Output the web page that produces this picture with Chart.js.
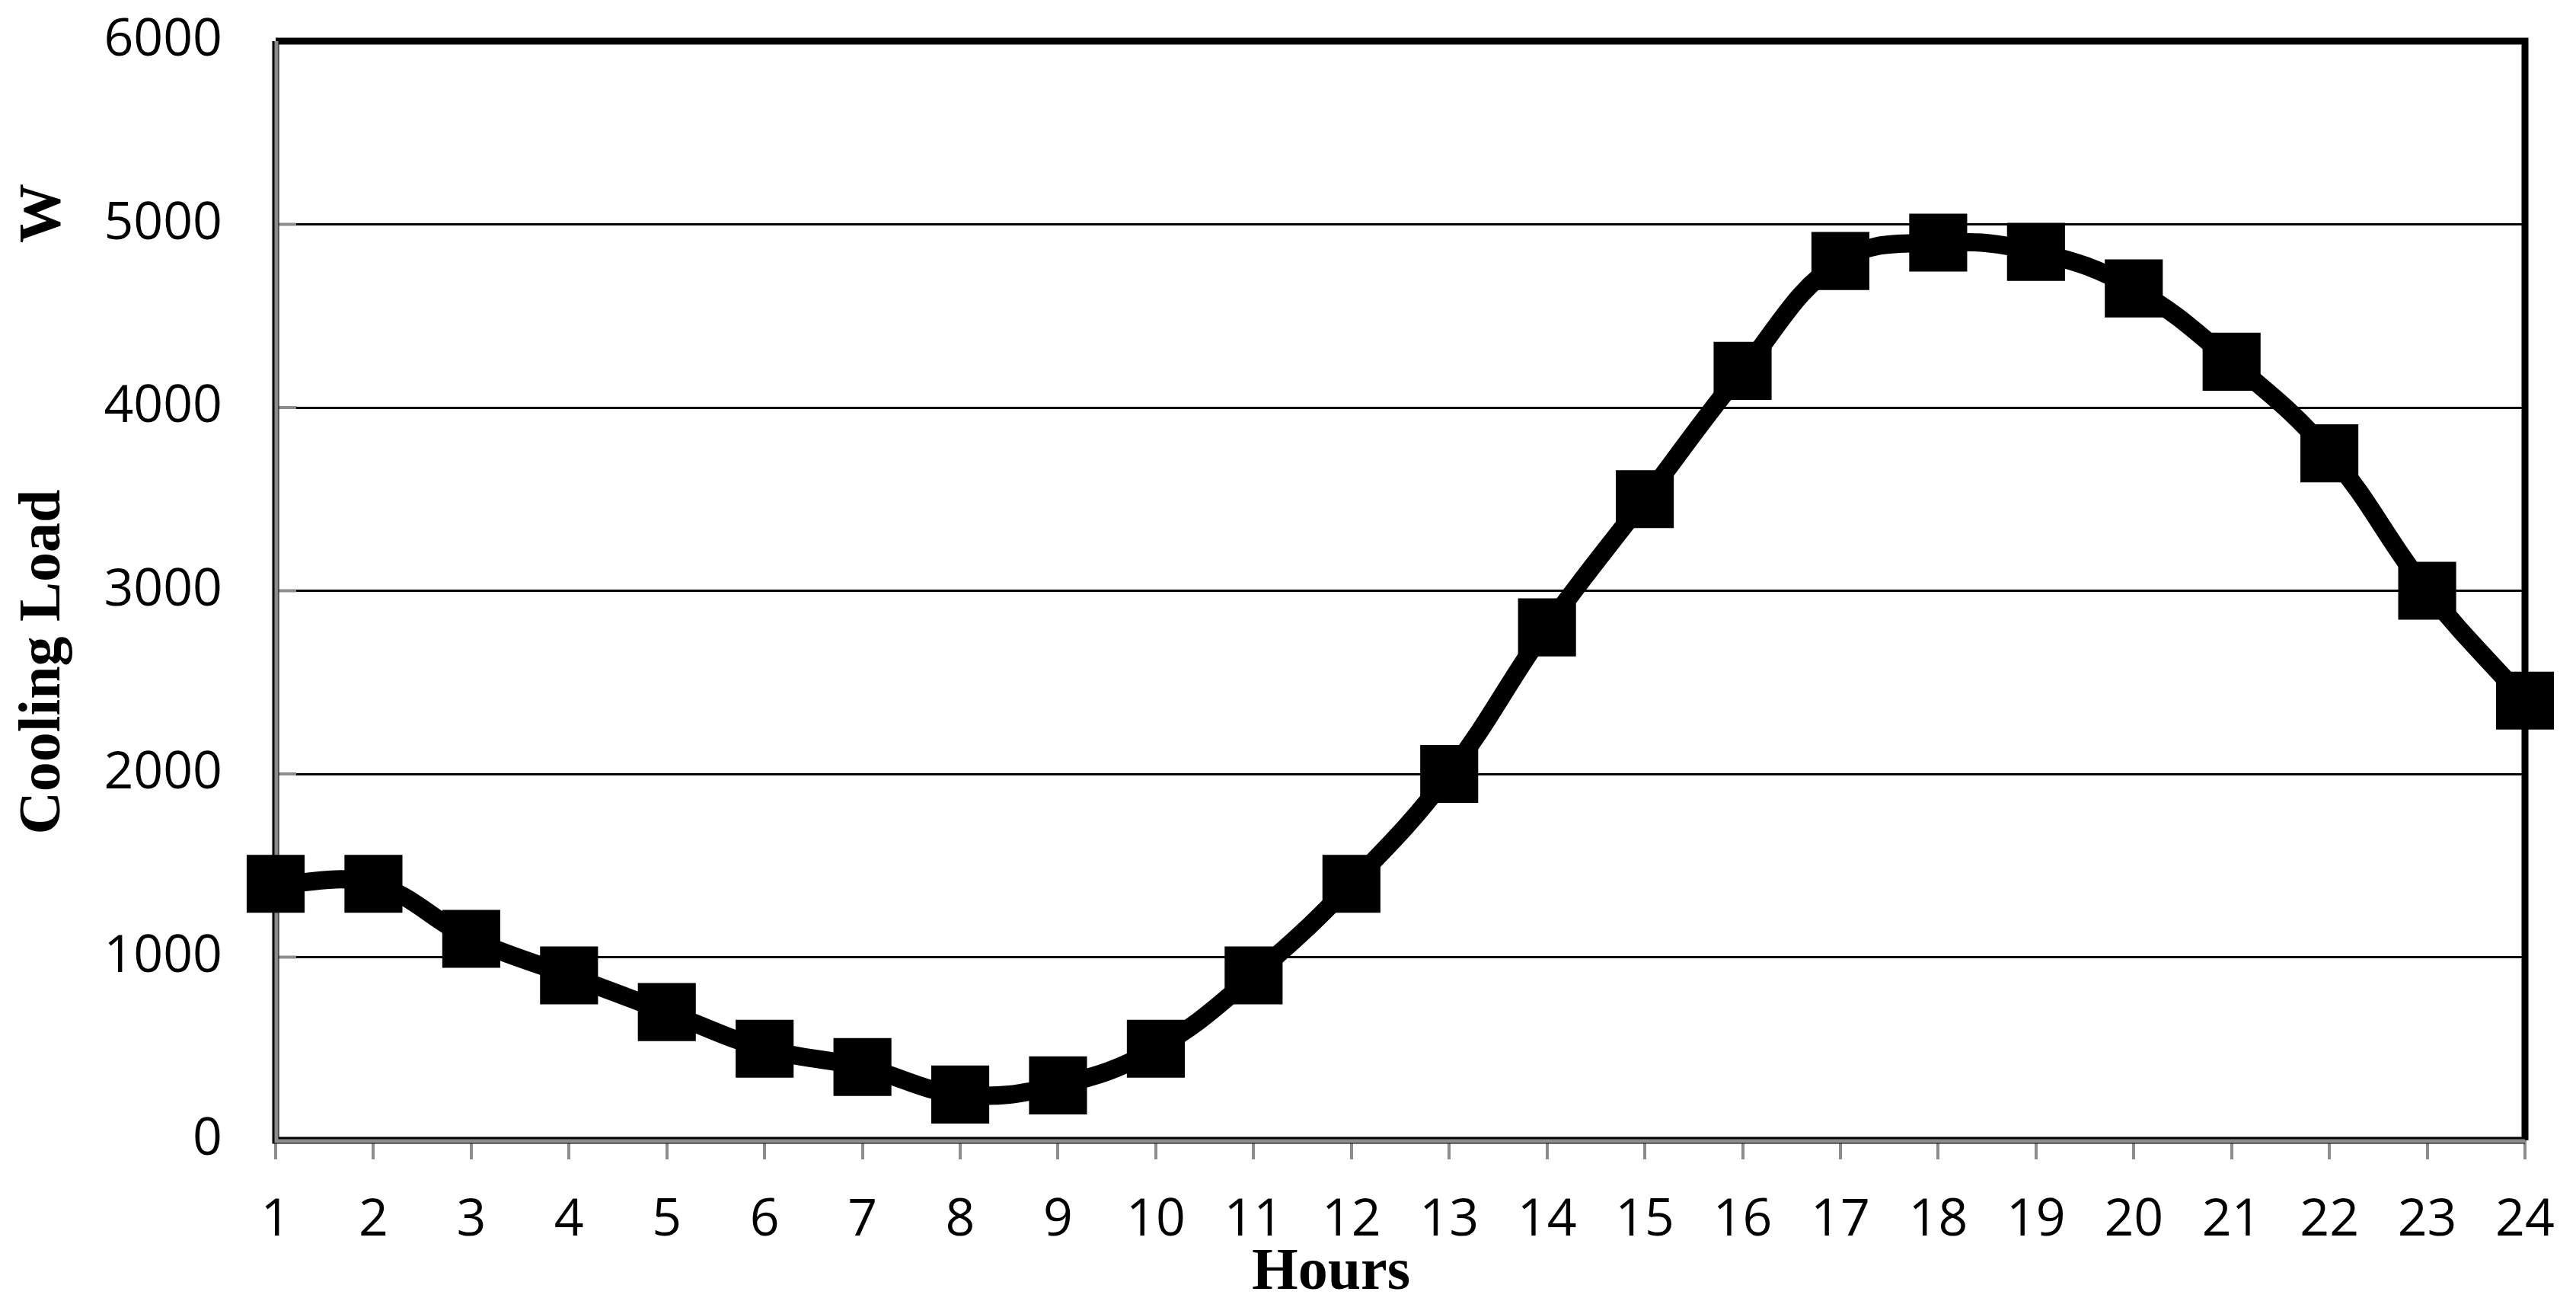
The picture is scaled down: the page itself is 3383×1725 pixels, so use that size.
<!DOCTYPE html>
<html>
<head>
<meta charset="utf-8">
<script src="https://cdn.jsdelivr.net/npm/chart.js@4"></script>
<style>
  html, body { margin: 0; padding: 0; background: #fff; }
  canvas { display: block; }
</style>
</head>
<body>
<canvas id="grafica" width="3383" height="1725"></canvas>
<script>
// datos
const horas = ['1','2','3','4','5','6','7','8','9','10','11','12','13','14','15','16','17','18','19','20','21','22','23','24'];
const cargaFrio = [1400, 1400, 1100, 900, 700, 500, 400, 250, 300, 500, 900, 1400, 2000, 2800, 3500, 4200, 4800, 4900, 4850, 4650, 4250, 3750, 3000, 2400];
const ticksY = [0, 1000, 2000, 3000, 4000, 5000, 6000];

const tituloX = 'Hours';
const tituloY = 'Cooling Load';
const unidadY = 'W';

// marco del area de trazado, marcas grises y titulos
const marcoPlugin = {
  id: 'marco',
  beforeDatasetsDraw(chart) {
    const { ctx, chartArea: a, scales } = chart;
    ctx.save();
    // marcas grises cortas dentro del area, junto al eje y
    ctx.strokeStyle = '#8c8c8c';
    ctx.lineWidth = 4;
    ticksY.forEach(v => {
      const y = scales.y.getPixelForValue(v);
      ctx.beginPath();
      ctx.moveTo(a.left, y);
      ctx.lineTo(a.left + 27, y);
      ctx.stroke();
    });
    // borde superior y derecho negro grueso
    ctx.strokeStyle = '#000';
    ctx.lineWidth = 9;
    ctx.beginPath();
    ctx.moveTo(a.left, a.top);
    ctx.lineTo(a.right, a.top);
    ctx.lineTo(a.right, a.bottom);
    ctx.stroke();
    // ejes izquierdo e inferior: gris con filo negro
    ctx.beginPath();
    ctx.moveTo(a.left, a.top);
    ctx.lineTo(a.left, a.bottom);
    ctx.lineTo(a.right, a.bottom);
    ctx.stroke();
    ctx.strokeStyle = '#8c8c8c';
    ctx.lineWidth = 5;
    ctx.beginPath();
    ctx.moveTo(a.left + 1, a.top);
    ctx.lineTo(a.left + 1, a.bottom + 1);
    ctx.lineTo(a.right, a.bottom + 1);
    ctx.stroke();
    ctx.restore();
  },
  afterDraw(chart) {
    const { ctx } = chart;
    ctx.save();
    ctx.fillStyle = '#000';
    ctx.font = 'bold 78px "Liberation Serif", "Times New Roman", serif';
    ctx.textAlign = 'center';
    ctx.textBaseline = 'middle';
    ctx.fillText(tituloX, 1748, 1672);
    ctx.translate(58, 0);
    ctx.rotate(-Math.PI / 2);
    ctx.fillText(tituloY, -869, 0);
    ctx.fillText(unidadY, -280, 0);
    ctx.restore();
  }
};

const ctx = document.getElementById('grafica').getContext('2d');
new Chart(ctx, {
  type: 'line',
  data: {
    labels: horas,
    datasets: [{
      label: tituloY,
      data: cargaFrio,
      borderColor: '#000',
      borderWidth: 24,
      tension: 0.4,
      pointStyle: 'rect',
      pointRadius: 51,
      pointHoverRadius: 51,
      pointBackgroundColor: '#000',
      pointBorderColor: '#000',
      pointBorderWidth: 4,
      clip: false
    }]
  },
  options: {
    responsive: false,
    animation: false,
    events: [],
    layout: { autoPadding: false, padding: { left: 0, top: 54, right: 67, bottom: 0 } },
    plugins: {
      legend: { display: false },
      tooltip: { enabled: false }
    },
    scales: {
      x: {
        offset: false,
        border: { display: false },
        grid: {
          drawOnChartArea: false,
          drawTicks: true,
          tickLength: 25,
          color: '#8c8c8c',
          lineWidth: 4
        },
        ticks: {
          color: '#000',
          padding: 40,
          maxRotation: 0,
          autoSkip: false,
          font: { family: '"Open Sans", sans-serif', size: 68 }
        },
        afterFit(scale) {
          scale.height = 228;
          scale.paddingLeft = 0;
          scale.paddingRight = 0;
        }
      },
      y: {
        min: 0,
        max: 6000,
        border: { display: false },
        grid: {
          color: '#000',
          lineWidth: 3,
          drawTicks: false
        },
        afterBuildTicks(scale) { scale.ticks = ticksY.map(v => ({ value: v })); },
        ticks: {
          color: '#000',
          padding: 70,
          font: { family: '"Open Sans", sans-serif', size: 68 },
          callback: v => String(v)
        },
        afterFit(scale) {
          scale.width = 362;
          scale.paddingTop = 0;
          scale.paddingBottom = 0;
        }
      }
    }
  },
  plugins: [marcoPlugin]
});
</script>
</body>
</html>
